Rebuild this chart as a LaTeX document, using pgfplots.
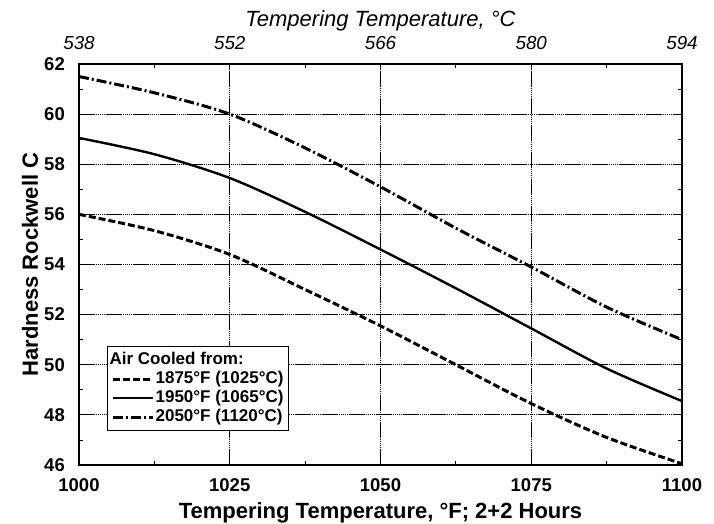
\documentclass[border=0pt]{standalone}
\usepackage{fontspec}
\setmainfont{Liberation Sans}
\usepackage{pgfplots}
\pgfplotsset{compat=1.18}

\begin{document}
\begin{tikzpicture}
\useasboundingbox (-79pt,-59pt) rectangle (635pt,465pt);
% main axis (deg F)
\begin{axis}[
    at={(0pt,0pt)}, anchor=south west,
    scale only axis, width=603pt, height=401pt,
    xmin=1000, xmax=1100, ymin=46, ymax=62,
    xtick={1000,1025,...,1100}, ytick={46,48,...,62},
    minor x tick num=1, minor y tick num=1,
    tick align=inside,
    major tick length=6pt, minor tick length=4pt,
    every tick/.style={black, line width=0.8pt},
    axis line style={line width=1.8pt},
    grid=major,
    major grid style={black, line width=0.9pt,
        dash pattern=on 16pt off 1pt on 0.8pt off 1.2pt on 0.8pt off 1.2pt on 0.8pt off 1.2pt on 0.8pt off 1.2pt on 0.8pt off 1.2pt},
    /pgf/number format/assume math mode=true,
    /pgf/number format/1000 sep={},
    ticklabel style={font=\fontsize{18.5}{20}\selectfont\bfseries, inner sep=0pt},
    xticklabel style={anchor=north, yshift=-13pt},
    yticklabel style={anchor=east, xshift=-14pt},
    xlabel={Tempering Temperature, °F; 2+2 Hours},
    ylabel={Hardness Rockwell C},
    label style={font=\fontsize{22}{24}\selectfont\bfseries, inner sep=0pt},
    xlabel style={at={(axis description cs:0.5,-0.1322)}, anchor=base},
    ylabel style={at={(axis description cs:-0.068,0.5)}, anchor=base},
    legend cell align=left,
    legend image code/.code={\draw[#1] (0pt,0pt) -- (40pt,0pt);},
    legend style={at={(0.0464,0.2968)}, anchor=north west,
        draw=black, line width=1.3pt, fill=white,
        font=\fontsize{17}{19}\selectfont\bfseries,
        inner sep=4pt, row sep=0pt,
        nodes={inner sep=1pt, text height=13pt, text depth=4pt},
        /tikz/every even column/.append style={column sep=5pt}},
]
\addlegendimage{empty legend}
\addlegendentry{\hspace*{-46pt}Air Cooled from:}

\addplot[black, line width=3pt, dash pattern=on 7pt off 3pt, smooth] coordinates {
    (1000,56.0) (1012.5,55.35) (1025,54.4) (1037.5,53.0) (1050,51.55)
    (1062.5,50.0) (1075,48.45) (1087.5,47.1) (1100,46.05)
};
\addlegendentry{1875°F (1025°C)}

\addplot[black, line width=2.4pt, smooth] coordinates {
    (1000,59.05) (1012.5,58.4) (1025,57.45) (1037.5,56.1) (1050,54.6)
    (1062.5,53.05) (1075,51.45) (1087.5,49.85) (1100,48.55)
};
\addlegendentry{1950°F (1065°C)}

\addplot[black, line width=3pt, dash pattern=on 10pt off 3pt on 2pt off 3pt, smooth] coordinates {
    (1000,61.5) (1012.5,60.85) (1025,60.0) (1037.5,58.65) (1050,57.1)
    (1062.5,55.45) (1075,53.9) (1087.5,52.3) (1100,51.0)
};
\addlegendentry{2050°F (1120°C)}
\end{axis}

% top axis (deg C)
\begin{axis}[
    at={(0pt,0pt)}, anchor=south west,
    scale only axis, width=603pt, height=401pt,
    xmin=1000, xmax=1100, ymin=46, ymax=62,
    axis line style={draw=none},
    tick style={draw=none},
    ytick=\empty,
    xtick={1000,1025,...,1100},
    xticklabels={538,552,566,580,594},
    xticklabel pos=upper,
    xticklabel style={font=\fontsize{18.8}{20}\selectfont\itshape,
        anchor=base, inner sep=0pt, yshift=14pt},
    xlabel={Tempering Temperature, °C},
    xlabel style={font=\fontsize{22}{24}\selectfont\itshape,
        at={(axis description cs:0.5,1.0923)}, anchor=base, inner sep=0pt},
]
\end{axis}
\end{tikzpicture}
\end{document}
